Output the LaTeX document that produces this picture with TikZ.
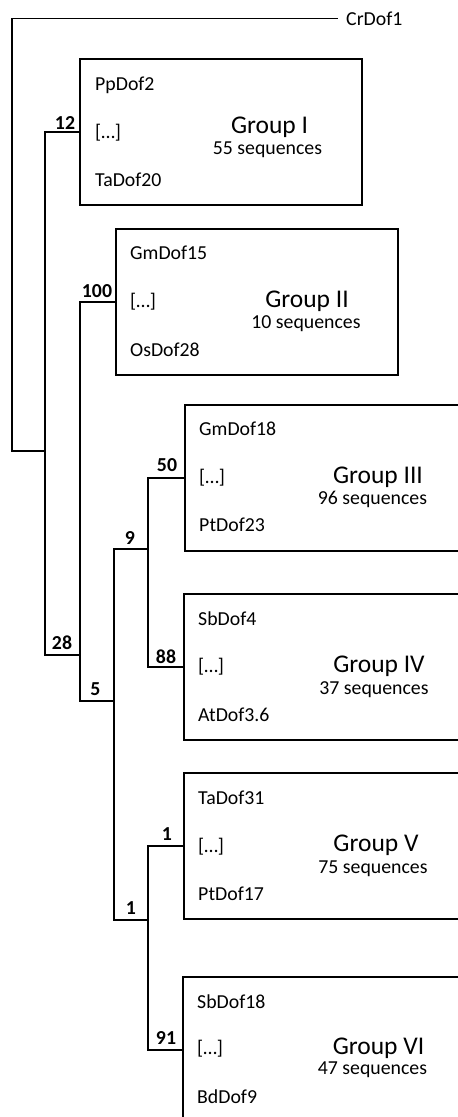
\documentclass[tikz,border=0pt]{standalone}
\usepackage{fontspec}
\setmainfont{Carlito}
\begin{document}
\begin{tikzpicture}[x=1pt,y=-1pt,
  tree/.style={line width=1.4pt, line cap=rect},
  grpbox/.style={draw, line width=1.4pt, minimum width=282pt, minimum height=146pt, inner sep=0pt, outer sep=0pt, anchor=north west},
  leaf/.style={inner sep=0pt, anchor=base west, font=\fontsize{19.8}{24}\selectfont},
  boot/.style={inner sep=0pt, anchor=base, font=\fontsize{19.8}{24}\selectfont\bfseries},
  gtitle/.style={inner sep=0pt, anchor=base, font=\fontsize{25.5}{30}\selectfont},
  gcount/.style={inner sep=0pt, anchor=base, font=\fontsize{19.8}{24}\selectfont}]
\useasboundingbox (0,0) rectangle (458,1117);
\clip (0,0) rectangle (458,1117);
% boxes
\node[grpbox] (g1) at (80,59) {};
\node[grpbox] (g2) at (116,229) {};
\node[grpbox] (g3) at (185,405) {};
\node[grpbox] (g4) at (184,594) {};
\node[grpbox] (g5) at (184,773) {};
\node[grpbox] (g6) at (183,977) {};
% root leaf
\node[leaf, anchor=west] (cr) at (346,18.5) {CrDof1};
% internal node coordinates
\coordinate (r) at (12,451);
\coordinate (a) at (45,451);
\coordinate (b) at (80,655);
\coordinate (c) at (114,701);
\coordinate (d) at (148,549);
\coordinate (e) at (148,920);
% tree
\draw[tree] ([xshift=-9pt]cr.west) -| (r) -- (a);
\draw[tree] (g1.west) -| (a) |- (b);
\draw[tree] (g2.west) -| (b) |- (c);
\draw[tree] (d) -| (c) |- (e);
\draw[tree] (g3.west) -| (d) |- (g4.west);
\draw[tree] (g5.west) -| (e) |- (g6.west);
% bootstrap values
\node[boot] (b12) at (65,129) {12};
\node[boot] (b28) at (62,649) {28};
\node[boot] (b100) at (97,297) {100};
\node[boot] (b5) at (95.5,695) {5};
\node[boot] (b9) at (130,544) {9};
\node[boot] (b50) at (167,471) {50};
\node[boot] (b88) at (166,663) {88};
\node[boot] (b1a) at (167,840) {1};
\node[boot] (b1b) at (131,914) {1};
\node[boot] (b91) at (166,1044) {91};
% leaves in boxes
\node[leaf] (l1a) at (95,90) {PpDof2};
\node[leaf] (l1b) at (95,138) {[…]};
\node[leaf] (l1c) at (95,186) {TaDof20};
\node[leaf] (l2a) at (130,259) {GmDof15};
\node[leaf] (l2b) at (130,307) {[…]};
\node[leaf] (l2c) at (130,356) {OsDof28};
\node[leaf] (l3a) at (199,435) {GmDof18};
\node[leaf] (l3b) at (199,483) {[…]};
\node[leaf] (l3c) at (199,531) {PtDof23};
\node[leaf] (l4a) at (198,625) {SbDof4};
\node[leaf] (l4b) at (198,672) {[…]};
\node[leaf] (l4c) at (198,721) {AtDof3.6};
\node[leaf] (l5a) at (198,804) {TaDof31};
\node[leaf] (l5b) at (198,852) {[…]};
\node[leaf] (l5c) at (198,900) {PtDof17};
\node[leaf] (l6a) at (197,1008) {SbDof18};
\node[leaf] (l6b) at (197,1054) {[…]};
\node[leaf] (l6c) at (197,1103) {BdDof9};
% group titles
\node[gtitle] (t1) at (269.5,133) {Group I};
\node[gcount] (c1) at (267.5,154) {55 sequences};
\node[gtitle] (t2) at (307,307.5) {Group II};
\node[gcount] (c2) at (306,328) {10 sequences};
\node[gtitle] (t3) at (378,483) {Group III};
\node[gcount] (c3) at (372.5,504) {96 sequences};
\node[gtitle] (t4) at (379,672) {Group IV};
\node[gcount] (c4) at (374,694) {37 sequences};
\node[gtitle] (t5) at (376,851.5) {Group V};
\node[gcount] (c5) at (373,873) {75 sequences};
\node[gtitle] (t6) at (378.5,1054.5) {Group VI};
\node[gcount] (c6) at (372.5,1074.5) {47 sequences};
\end{tikzpicture}
\end{document}
